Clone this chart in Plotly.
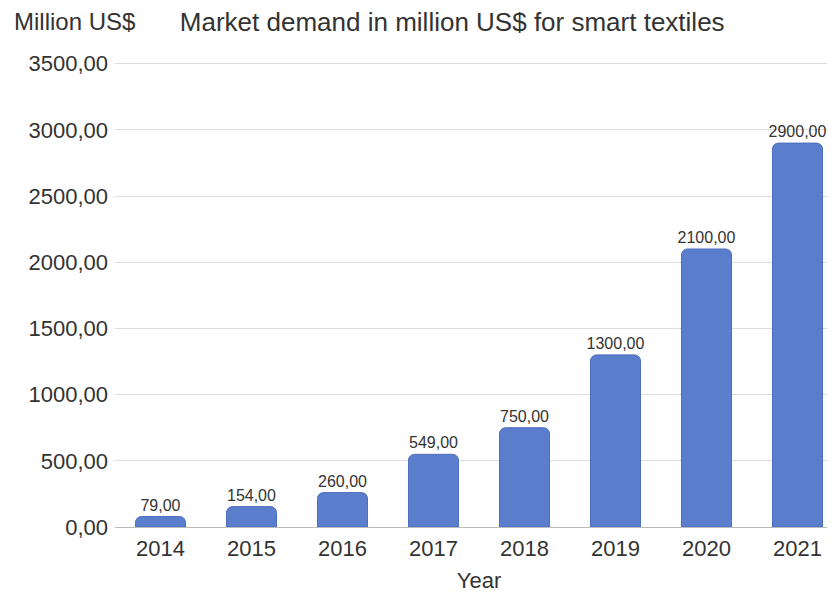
import plotly.graph_objects as go

years = ["2014", "2015", "2016", "2017", "2018", "2019", "2020", "2021"]
demand = [79, 154, 260, 549, 750, 1300, 2100, 2900]
y_ticks = [0, 500, 1000, 1500, 2000, 2500, 3000, 3500]

fig = go.Figure()
fig.add_trace(go.Bar(
    x=years, y=demand,
    marker=dict(color="#5a7dcc", cornerradius=6, line=dict(color="#4d6fbf", width=1)),
    width=0.55,
    texttemplate="%{y:.2f}", textposition="outside", constraintext="none",
    textfont=dict(size=16, color="#333333", family="Liberation Sans"),
    cliponaxis=False,
))

fig.update_layout(
    width=835, height=594,
    margin=dict(l=107, r=0, t=53, b=75),
    paper_bgcolor="white", plot_bgcolor="white",
    separators=",.",
    font=dict(family="Liberation Sans", color="#333333"),
    showlegend=False,
    title=dict(text="Market demand in million US$ for smart textiles",
               x=0.532, xanchor="center", y=0.976, yanchor="middle",
               font=dict(size=26, color="#333333")),
    annotations=[dict(text="Million US$", x=-0.142, xref="paper", xanchor="left",
                      y=1.084, yref="paper", yanchor="middle",
                      showarrow=False, font=dict(size=24, color="#333333"))],
)
fig.update_yaxes(range=[0, 3520], tickvals=y_ticks,
                 tickformat=".2f",
                 gridcolor="#dddddd", gridwidth=1,
                 zeroline=True, zerolinecolor="#bbbbbb", zerolinewidth=1,
                 tickfont=dict(size=22, color="#333333"), ticks="", showline=False,
                 ticklabelstandoff=6)
fig.update_xaxes(title=dict(text="Year", font=dict(size=22, color="#333333"), standoff=12),
                 tickfont=dict(size=22, color="#333333"), ticks="", showline=False,
                 ticklabelstandoff=6)

fig.write_html("out.html")
